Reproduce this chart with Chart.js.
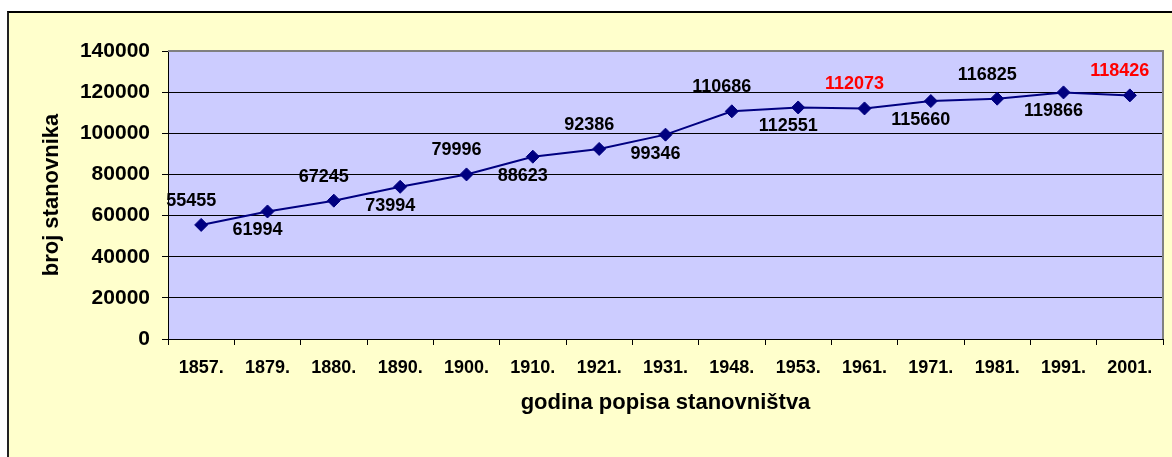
<!DOCTYPE html>
<html>
<head>
<meta charset="utf-8">
<script src="https://cdn.jsdelivr.net/npm/chart.js@4/dist/chart.umd.min.js"></script>
<style>
  body { margin: 0; background: #fff; width: 1172px; height: 457px; overflow: hidden; position: relative; }
  .frame { position: absolute; left: 7px; top: 11px; width: 1170px; height: 450px;
           border-left: 2px solid #222; border-top: 2px solid #000; background: #FFFFCC; }
  canvas { position: absolute; left: 0; top: 0; }
</style>
</head>
<body>
<div class="frame"><canvas id="popis" width="1163" height="444"></canvas></div>
<script>
// godine popisa i broj stanovnika
const godine = ['1857.', '1879.', '1880.', '1890.', '1900.', '1910.', '1921.', '1931.', '1948.', '1953.', '1961.', '1971.', '1981.', '1991.', '2001.'];
const stanovnici = [55455, 61994, 67245, 73994, 79996, 88623, 92386, 99346, 110686, 112551, 112073, 115660, 116825, 119866, 118426];
const crveneOznake = ['1961.', '2001.'];

const FONT = '"Liberation Sans", Arial, sans-serif';

// pozadina podrucja grafa i sivi rub gore/desno
const podloga = {
  id: 'podloga',
  beforeDraw(chart) {
    const {ctx, chartArea: a} = chart;
    ctx.save();
    ctx.fillStyle = '#CCCCFF';
    ctx.fillRect(a.left, a.top, a.right - a.left, a.bottom - a.top);
    ctx.restore();
  },
  beforeDatasetsDraw(chart) {
    const {ctx, chartArea: a} = chart;
    ctx.save();
    ctx.strokeStyle = '#808080';
    ctx.lineWidth = 2;
    ctx.beginPath();
    ctx.moveTo(a.left, a.top);
    ctx.lineTo(a.right, a.top);
    ctx.lineTo(a.right, a.bottom);
    ctx.stroke();
    ctx.restore();
  }
};

// oznake vrijednosti, naizmjenicno iznad i ispod tocke
const oznake = {
  id: 'oznake',
  afterDatasetsDraw(chart) {
    const {ctx} = chart;
    const meta = chart.getDatasetMeta(0);
    ctx.save();
    ctx.font = 'bold 18px ' + FONT;
    ctx.textAlign = 'center';
    ctx.textBaseline = 'middle';
    meta.data.forEach((pt, i) => {
      ctx.fillStyle = crveneOznake.includes(godine[i]) ? '#FF0000' : '#000';
      const dy = i % 2 === 0 ? -24 : 19;
      ctx.fillText(String(stanovnici[i]), pt.x - 10, pt.y + dy);
    });
    ctx.restore();
  }
};

new Chart(document.getElementById('popis'), {
  type: 'line',
  data: {
    labels: godine,
    datasets: [{
      data: stanovnici,
      borderColor: '#000080',
      borderWidth: 2,
      backgroundColor: '#000080',
      pointStyle: 'rectRot',
      pointRadius: 6.5,
      pointBorderWidth: 1,
      pointBackgroundColor: '#000080',
      pointBorderColor: '#000080',
      tension: 0
    }]
  },
  options: {
    responsive: false,
    devicePixelRatio: 1,
    animation: false,
    layout: { padding: { top: 38, right: 9, left: 0, bottom: 0 } },
    plugins: { legend: { display: false }, tooltip: { enabled: false } },
    scales: {
      x: {
        offset: true,
        afterFit(s) { s.height = 118; },
        grid: { display: true, offset: true, drawOnChartArea: false, drawTicks: true, tickLength: 6, color: '#000' },
        border: { display: true, color: '#000', width: 1 },
        ticks: { color: '#000', padding: 12, maxRotation: 0, font: { family: FONT, size: 18, weight: 'bold' } },
        title: { display: true, text: 'godina popisa stanovništva', color: '#000',
                 padding: { top: 0, bottom: 41 }, font: { family: FONT, size: 22, weight: 'bold' } }
      },
      y: {
        min: 0,
        max: 140000,
        afterFit(s) { s.width = 159; },
        ticks: { stepSize: 20000, color: '#000', padding: 12, callback: (v) => String(v),
                 font: { family: FONT, size: 21, weight: 'bold' } },
        grid: { drawTicks: true, tickLength: 6,
                color: (c) => (c.tick && c.tick.value === 140000 && c.type !== 'tick') ? 'rgba(0,0,0,0)' : '#000' },
        border: { display: true, color: '#000', width: 1 },
        title: { display: true, text: 'broj stanovnika', color: '#000',
                 padding: { top: 30, bottom: 0 }, font: { family: FONT, size: 22, weight: 'bold' } }
      }
    }
  },
  plugins: [podloga, oznake]
});
</script>
</body>
</html>
